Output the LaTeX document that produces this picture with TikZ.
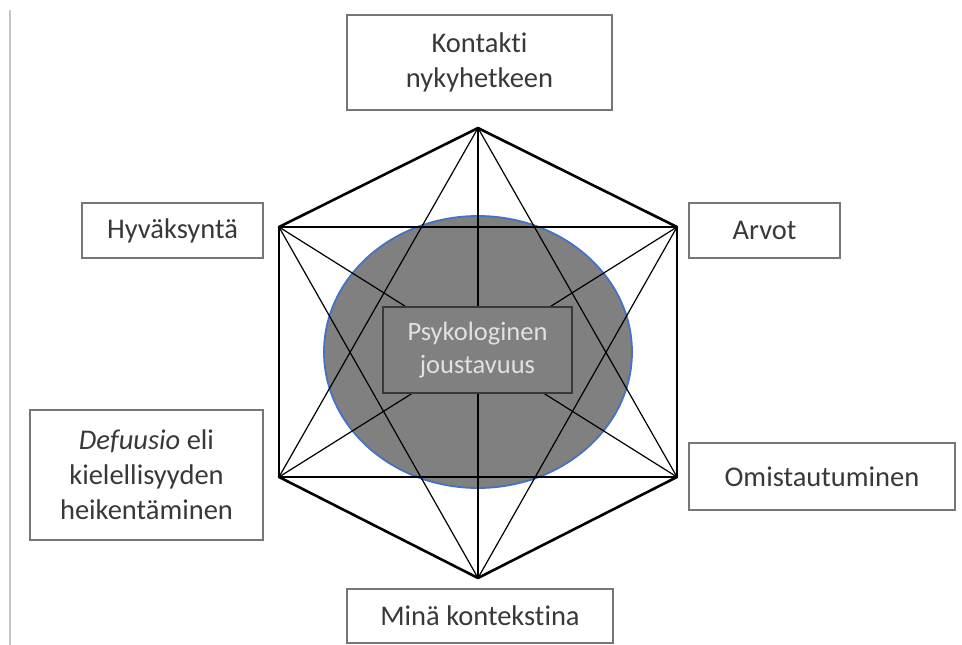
\documentclass[tikz,border=0pt]{standalone}
\usepackage{fontspec}
\setmainfont{Carlito}[Ligatures=NoCommon]
\usepackage{tikz}
\definecolor{boxgray}{RGB}{118,118,118}
\definecolor{txtgray}{RGB}{56,56,56}
\definecolor{ellgray}{RGB}{128,128,128}
\definecolor{ellblue}{RGB}{68,114,196}
\definecolor{coregray}{RGB}{225,225,225}

\begin{document}
\begin{tikzpicture}[x=1pt,y=-1pt]
\tikzstyle{every node}=[inner sep=0pt, outer sep=0pt]
\tikzstyle{process}=[draw=boxgray, line width=1.8pt, rectangle, text=txtgray, align=center, font=\fontsize{28.5}{35}\selectfont]
\tikzstyle{core}=[draw=txtgray, fill=ellgray, line width=1.5pt, rectangle, text=coregray, align=center, font=\fontsize{26.5}{33}\selectfont, minimum width=189pt, minimum height=86pt]
\tikzstyle{rim}=[line width=2.6pt, line cap=round, line join=round]
\tikzstyle{chord}=[line width=1.2pt]
\useasboundingbox (0,0) rectangle (962,645);
% page rule
\draw[gray!45, line width=1.5pt] (10,10) -- (10,645);
% flexibility area
\draw[ellblue, fill=ellgray, line width=1.8pt] (478,352) ellipse [x radius=154, y radius=136];
% hexagon corners
\coordinate (top) at (478,128);
\coordinate (ur) at (677,227);
\coordinate (lr) at (677,477);
\coordinate (bot) at (478,578);
\coordinate (ll) at (279,477);
\coordinate (ul) at (279,227);
% chords
\draw[chord] (top) -- (bot);
\draw[chord] (ul) -- (lr);
\draw[chord] (ur) -- (ll);
\draw[chord] (top) -- (lr);
\draw[chord] (lr) -- (ll);
\draw[chord] (ll) -- (top);
\draw[chord] (ul) -- (ur);
\draw[chord] (ur) -- (bot);
\draw[chord] (bot) -- (ul);
% outer hexagon
\draw[rim] (top) -- (ur);
\draw[rim] (ur) -- (lr);
\draw[rim] (lr) -- (bot);
\draw[rim] (bot) -- (ll);
\draw[rim] (ll) -- (ul);
\draw[rim] (ul) -- (top);
% centre and processes
\draw (477.5,350) node (flex) [core] {Psykologinen\\joustavuus};
\draw (479.5,62.5) node (now) [process, minimum width=265pt, minimum height=95pt] {Kontakti\\nykyhetkeen};
\draw (172.5,230.5) node (accept) [process, minimum width=181pt, minimum height=55pt] {Hyväksyntä};
\draw (764.5,230.5) node (values) [process, minimum width=151pt, minimum height=55pt] {Arvot};
\draw (146.5,475) node (defus) [process, minimum width=233pt, minimum height=130pt] {\textit{Defuusio} eli\\kielellisyyden\\heikentäminen};
\draw (822,476.5) node (commit) [process, minimum width=266pt, minimum height=67pt] {Omistautuminen};
\draw (480,616) node (self) [process, minimum width=266pt, minimum height=54pt] {Minä kontekstina};
\end{tikzpicture}
\end{document}
